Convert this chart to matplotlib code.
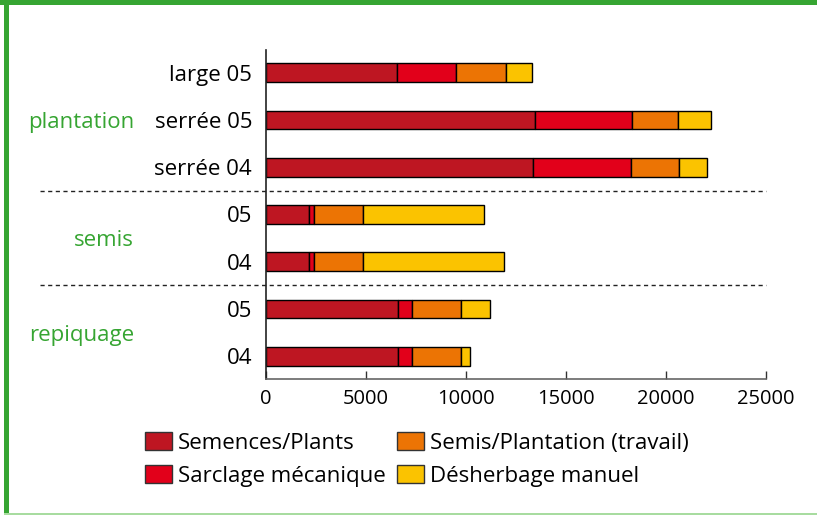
import matplotlib
matplotlib.use("Agg")
import matplotlib.pyplot as plt
from matplotlib.patches import Rectangle
from matplotlib.lines import Line2D
import numpy as np

plt.rcParams['font.family'] = ['Open Sans', 'DejaVu Sans']

categories = ["large 05", "serrée 05", "serrée 04", "05", "04", "05", "04"]
groups = ["plantation", "semis", "repiquage"]
series_names = ["Semences/Plants", "Sarclage mécanique",
                "Semis/Plantation (travail)", "Désherbage manuel"]
semences = [6550, 13450, 13350, 2150, 2150, 6600, 6600]
sarclage = [2950, 4850, 4900, 230, 230, 700, 700]
semis_plant = [2500, 2300, 2400, 2450, 2450, 2450, 2450]
desherbage = [1300, 1650, 1400, 6050, 7050, 1450, 450]
xticks = [0, 5000, 10000, 15000, 20000, 25000]

colors = ["#be1622", "#e2001a", "#ec7404", "#fbc300"]
green = "#36a532"

W, H = 817, 515
fig = plt.figure(figsize=(W / 100, H / 100), dpi=100)
ax = fig.add_axes([266 / W, 1 - 379 / H, 500 / W, 329 / H])

y = np.arange(len(categories))
series = [semences, sarclage, semis_plant, desherbage]
left = np.zeros(len(categories))
for vals, col in zip(series, colors):
    ax.barh(y, vals, left=left, height=0.40, color=col,
            edgecolor="black", linewidth=1.0)
    left = left + np.array(vals)

ax.set_ylim(len(categories) - 1 + 0.483, -0.483)
ax.set_xlim(0, 25000)
ax.set_yticks(y)
ax.set_yticklabels(categories, fontsize=16)
ax.set_xticks(xticks)
ax.set_xticklabels([str(t) for t in xticks], fontsize=14.5)
ax.tick_params(axis="y", length=0, pad=10)
ax.tick_params(axis="x", direction="in", length=6, width=1, color="#333333", pad=7)
for s in ["top", "right"]:
    ax.spines[s].set_visible(False)
ax.spines["bottom"].set_color("#666666")
ax.spines["left"].set_color("#222222")
ax.spines["bottom"].set_linewidth(1.2)
ax.spines["left"].set_linewidth(1.2)

# dashed separators
for yy in [2.5, 4.5]:
    yfig = ax.transData.transform((0, yy))[1] / H
    fig.add_artist(Line2D([40 / W, 766 / W], [yfig, yfig], color="#222222",
                          linewidth=1.0, linestyle=(0, (3, 2.5))))

# group labels
group_pos = [1, 3.5, 5.5]
for g, p in zip(groups, group_pos):
    yfig = ax.transData.transform((0, p))[1] / H
    fig.text(134 / W, yfig, g, color=green, fontsize=16, ha="right",
             va="center_baseline")

# legend
handles = [Rectangle((0, 0), 1, 1, facecolor=c, edgecolor="#333333", linewidth=1.0)
           for c in colors]
fig.legend(handles, series_names, loc="upper left", ncol=2,
           bbox_to_anchor=(138 / W, 1 - 425 / H), frameon=False, fontsize=16,
           handlelength=1.22, handleheight=0.9, handletextpad=0.28,
           columnspacing=0.5, labelspacing=0.5, borderaxespad=0, borderpad=0.3)

# green frame
fig.add_artist(Rectangle((0, 1 - 5 / H), 1, 5 / H, transform=fig.transFigure,
                         facecolor=green, edgecolor="none"))
fig.add_artist(Rectangle((4 / W, 0), 5 / W, 1, transform=fig.transFigure,
                         facecolor=green, edgecolor="none"))
fig.add_artist(Rectangle((4 / W, 0), 1 - 4 / W, 2 / H, transform=fig.transFigure,
                         facecolor="#a8dca0", edgecolor="none"))

fig.savefig("out.png", dpi=100)
